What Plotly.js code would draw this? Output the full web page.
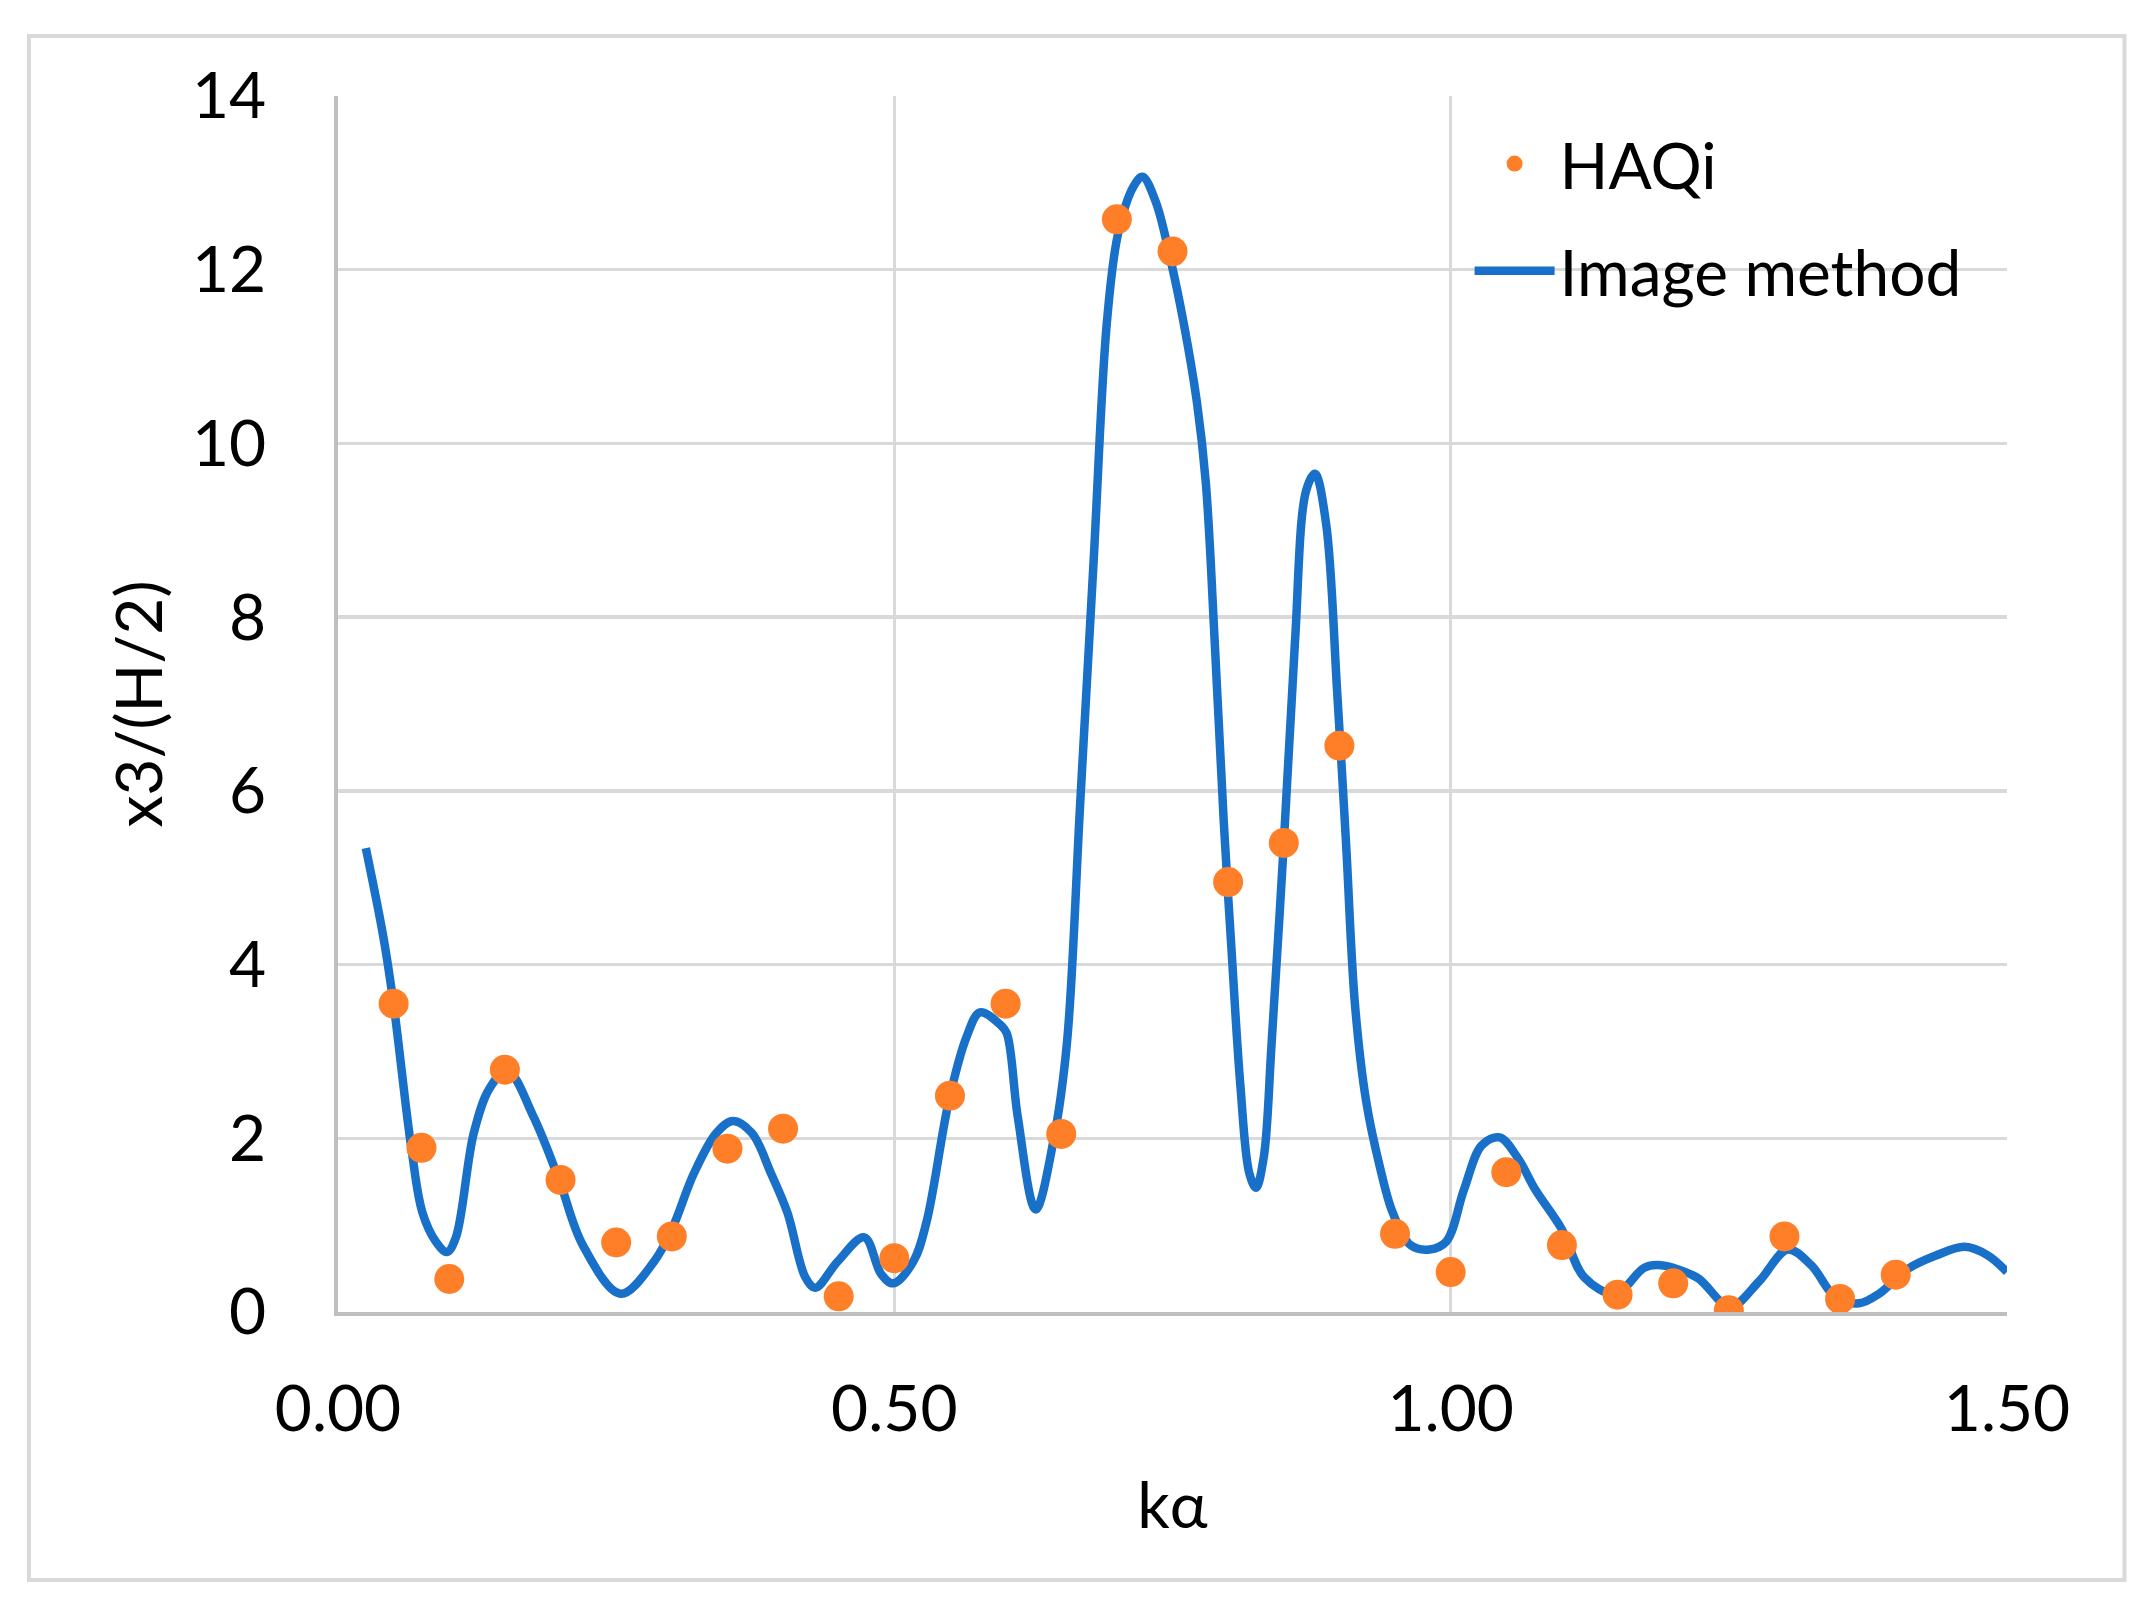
<!DOCTYPE html>
<html>
<head>
<meta charset="utf-8">
<script src="https://cdn.plot.ly/plotly-3.0.1.min.js"></script>
<style>
  body { margin: 0; background: #fff; }
  #chart { width: 2150px; height: 1617px; }
</style>
</head>
<body>
<div id="chart"></div>
<script>
// HAQi points (markers)
var haqiX = [0.05, 0.075, 0.10, 0.15, 0.20, 0.25, 0.30, 0.35, 0.40, 0.45, 0.50, 0.55, 0.60, 0.65,
  0.70, 0.75, 0.80, 0.85, 0.90, 0.95, 1.00, 1.05, 1.10, 1.15, 1.20, 1.25, 1.30, 1.35, 1.40];
var haqiY = [3.55, 1.89, 0.38, 2.79, 1.52, 0.80, 0.87, 1.88, 2.11, 0.18, 0.62, 2.49, 3.55, 2.05,
  12.58, 12.21, 4.95, 5.40, 6.52, 0.90, 0.46, 1.61, 0.77, 0.20, 0.33, 0.02, 0.87, 0.15, 0.43];

// Image method curve
var imageX = [0.025, 0.041, 0.050, 0.066, 0.076, 0.088, 0.098, 0.106, 0.122, 0.136, 0.152, 0.176, 0.199,
  0.220, 0.254, 0.284, 0.300, 0.320, 0.340, 0.355, 0.372, 0.389, 0.404, 0.420, 0.429, 0.449, 0.473,
  0.488, 0.499, 0.517, 0.529, 0.549, 0.565, 0.577, 0.595, 0.601, 0.611, 0.627, 0.643, 0.655, 0.667,
  0.679, 0.691, 0.701, 0.715, 0.723, 0.735, 0.748, 0.760, 0.772, 0.780, 0.788, 0.796, 0.803, 0.811,
  0.819, 0.825, 0.832, 0.839, 0.850, 0.860, 0.870, 0.878, 0.888, 0.898, 0.906, 0.914, 0.924, 0.936,
  0.948, 0.964, 0.981, 0.996, 1.012, 1.028, 1.044, 1.060, 1.076, 1.100, 1.120, 1.148, 1.174, 1.187,
  1.221, 1.251, 1.277, 1.303, 1.324, 1.346, 1.367, 1.385, 1.410, 1.436, 1.462, 1.483, 1.500];
var imageY = [5.34, 4.30, 3.54, 1.88, 1.14, 0.81, 0.69, 0.86, 2.06, 2.57, 2.78, 2.24, 1.51,
  0.77, 0.21, 0.58, 0.95, 1.60, 2.06, 2.20, 2.06, 1.60, 1.14, 0.40, 0.28, 0.58, 0.86,
  0.44, 0.33, 0.58, 1.04, 2.43, 3.17, 3.45, 3.31, 3.21, 2.24, 1.18, 1.97, 3.08, 5.85,
  8.62, 11.39, 12.41, 12.96, 13.07, 12.78, 12.13, 11.39, 10.47, 9.54, 7.70, 5.66, 4.18, 2.61,
  1.60, 1.43, 1.78, 3.08, 5.39, 7.70, 9.45, 9.65, 9.08, 7.14, 5.39, 3.54, 2.43, 1.69,
  1.14, 0.77, 0.72, 0.81, 1.41, 1.92, 2.01, 1.78, 1.41, 0.95, 0.40, 0.21, 0.51, 0.54,
  0.40, 0.06, 0.35, 0.72, 0.54, 0.17, 0.10, 0.21, 0.49, 0.65, 0.75, 0.65, 0.46];

var fontName = "Lato, 'Open Sans', sans-serif";

var haqi = {
  x: haqiX,
  y: haqiY,
  name: "HAQi",
  mode: "markers",
  type: "scatter",
  legendgroup: "a",
  legendrank: 1,
  marker: { color: "#fe7f27", size: 30 }
};

var image = {
  x: imageX,
  y: imageY,
  name: "Image method",
  mode: "lines",
  type: "scatter",
  legendgroup: "b",
  legendrank: 2,
  line: { color: "#1870c8", width: 8.5, shape: "spline", smoothing: 1 }
};

// line first so the dots sit on top of it
var data = [image, haqi];

var layout = {
  width: 2150,
  height: 1617,
  margin: { l: 338, r: 143, t: 96, b: 305 },
  paper_bgcolor: "#ffffff",
  plot_bgcolor: "#ffffff",
  font: { family: fontName, size: 64, color: "#000000" },
  showlegend: true,
  legend: {
    x: 0.678, y: 0.984, xanchor: "left", yanchor: "top",
    traceorder: "grouped",
    tracegroupgap: 21,
    itemwidth: 80,
    bgcolor: "rgba(0,0,0,0)",
    font: { family: fontName, size: 64, color: "#000000" }
  },
  xaxis: {
    range: [0, 1.5],
    dtick: 0.5,
    tick0: 0,
    tickformat: ".2f",
    showgrid: true,
    gridcolor: "#d9d9d9",
    gridwidth: 3.5,
    zeroline: false,
    showline: true,
    linecolor: "#bfbfbf",
    linewidth: 4,
    ticks: "",
    ticklabelstandoff: 38,
    tickfont: { family: fontName, size: 64, color: "#000000" },
    title: { text: "kα", standoff: 40, font: { family: fontName, size: 64, color: "#000000" } }
  },
  yaxis: {
    range: [0, 14],
    dtick: 2,
    tick0: 0,
    showgrid: true,
    gridcolor: "#d9d9d9",
    gridwidth: 3.5,
    zeroline: false,
    showline: true,
    linecolor: "#bfbfbf",
    linewidth: 4,
    ticks: "",
    ticklabelstandoff: 55,
    tickfont: { family: fontName, size: 64, color: "#000000" },
    title: { text: "x3/(H/2)", standoff: 10, font: { family: fontName, size: 64, color: "#000000" } }
  },
  shapes: [{
    type: "rect",
    xref: "paper", yref: "paper",
    x0: -0.18514, x1: 1.07040, y0: -0.22039, y1: 1.04934,
    line: { color: "#d9d9d9", width: 4 },
    layer: "below"
  }]
};

Plotly.newPlot("chart", data, layout, { staticPlot: true });
</script>
</body>
</html>
